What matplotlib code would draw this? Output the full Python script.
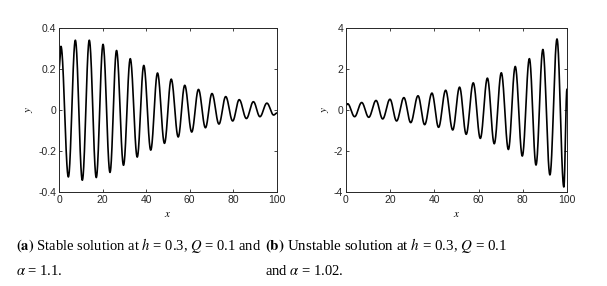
import numpy as np
import matplotlib.pyplot as plt

plt.rcParams['mathtext.fontset'] = 'stix'

# extrema (x, y), including the end points
stable_x = [0, 0.9, 4.3, 7.5, 10.7, 13.9, 17.1, 20.2, 23.4, 26.4, 29.6, 32.7, 35.9,
            38.9, 42.1, 45.2, 48.4, 51.5, 54.7, 57.7, 60.9, 64.0, 67.2, 70.2, 73.4,
            76.5, 79.7, 82.7, 86.0, 89.2, 92.2, 95.4, 98.5, 100]
stable_y = [0.20, 0.31, -0.327, 0.34, -0.343, 0.34, -0.33, 0.32, -0.305, 0.29, -0.27,
            0.25, -0.23, 0.217, -0.196, 0.18, -0.163, 0.15, -0.132, 0.12, -0.108,
            0.10, -0.087, 0.08, -0.069, 0.065, -0.054, 0.05, -0.042, 0.04, -0.033,
            0.033, -0.025, -0.015]

unstable_x = [0, 0.75, 3.9, 7.1, 10.3, 13.6, 16.6, 19.9, 22.9, 26.2, 29.3, 32.6, 35.6,
              38.9, 41.9, 45.1, 48.3, 51.4, 54.4, 57.6, 60.8, 64.0, 67.1, 70.3, 73.5,
              76.6, 79.8, 83.0, 86.0, 89.1, 92.3, 95.5, 98.6, 100]
unstable_y = [0.22, 0.30, -0.33, 0.36, -0.36, 0.46, -0.44, 0.52, -0.54, 0.60, -0.62,
              0.69, -0.72, 0.82, -0.85, 0.96, -0.98, 1.11, -1.19, 1.32, -1.39, 1.55,
              -1.65, 1.81, -1.93, 2.12, -2.25, 2.50, -2.69, 2.95, -3.17, 3.46, -3.76,
              1.0]


def smooth_curve(xs, ys, n=40):
    # half-cosine segments between consecutive extrema so the peaks look round
    px, py = [], []
    for i in range(len(xs) - 1):
        t = np.linspace(0, 1, n, endpoint=False)
        s = (1 - np.cos(np.pi * t)) / 2
        px.extend(xs[i] + (xs[i + 1] - xs[i]) * t)
        py.extend(ys[i] + (ys[i + 1] - ys[i]) * s)
    px.append(xs[-1])
    py.append(ys[-1])
    return px, py


fig = plt.figure(figsize=(6.07, 2.86), dpi=100)
ax1 = fig.add_axes([0.0972, 0.329, 0.359, 0.5734])
ax2 = fig.add_axes([0.570, 0.329, 0.364, 0.5734])

panels = [(ax1, stable_x, stable_y, [-0.4, 0.4], [-0.4, -0.2, 0, 0.2, 0.4],
           ['-0.4', '-0.2', '0', '0.2', '0.4']),
          (ax2, unstable_x, unstable_y, [-4, 4], [-4, -2, 0, 2, 4],
           ['-4', '-2', '0', '2', '4'])]

for ax, xs, ys, ylim, yt, ytl in panels:
    cx, cy = smooth_curve(xs, ys)
    ax.plot(cx, cy, color='black', linewidth=1.2)
    ax.set_xlim(0, 100)
    ax.set_ylim(*ylim)
    ax.set_xticks([0, 20, 40, 60, 80, 100])
    ax.set_yticks(yt)
    ax.set_yticklabels(ytl)
    ax.tick_params(direction='in', top=True, right=True, length=2.5, width=0.6,
                   labelsize=7.5, pad=2, colors='#262626')
    for lbl in ax.get_xticklabels() + ax.get_yticklabels():
        lbl.set_family('Liberation Sans')
    for sp in ax.spines.values():
        sp.set_linewidth(0.7)
        sp.set_color('#262626')
    ax.set_xlabel('$x$', fontsize=8, labelpad=3)
    ax.set_ylabel('$y$', fontsize=8, labelpad=2)

fig.text(0.026, 0.143, r'$\mathbf{(a)}$ Stable solution at $h$ = 0.3, $Q$ = 0.1 and',
         fontsize=10.5, family='Liberation Serif', va='center')
fig.text(0.026, 0.052, r'$\alpha$ = 1.1.', fontsize=10.5, family='Liberation Serif',
         va='center')
fig.text(0.436, 0.143, r'$\mathbf{(b)}$ Unstable solution at $h$ = 0.3, $Q$ = 0.1',
         fontsize=10.8, family='Liberation Serif', va='center')
fig.text(0.437, 0.052, r'and $\alpha$ = 1.02.', fontsize=10.5, family='Liberation Serif',
         va='center')

fig.savefig('out.png', dpi=100)
